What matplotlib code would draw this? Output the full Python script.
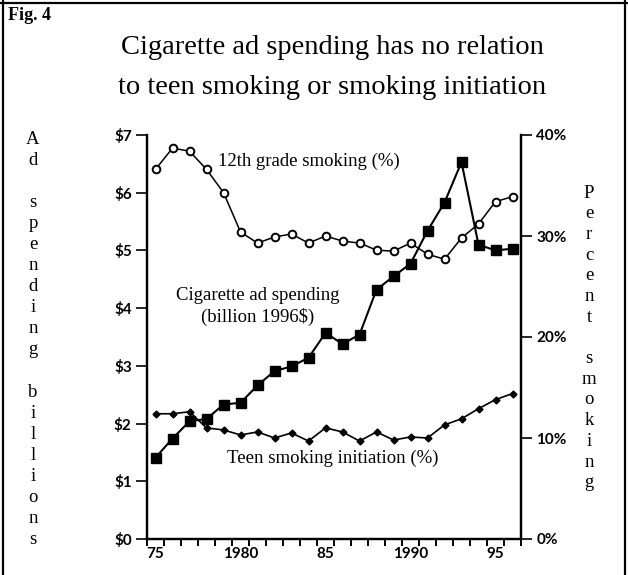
import matplotlib
matplotlib.use('Agg')
import matplotlib.pyplot as plt
from matplotlib.lines import Line2D

# Data
years = list(range(1975, 1997))
ad_spending = [1.41, 1.74, 2.04, 2.08, 2.33, 2.36, 2.66, 2.91, 2.99, 3.14, 3.57,
               3.38, 3.54, 4.32, 4.55, 4.77, 5.34, 5.83, 6.53, 5.10, 5.00, 5.03]
grade12_smoking = [36.6, 38.7, 38.4, 36.6, 34.3, 30.4, 29.3, 29.9, 30.2, 29.3, 30.0,
                   29.5, 29.3, 28.6, 28.5, 29.3, 28.2, 27.7, 29.8, 31.2, 33.4, 33.9]
teen_initiation = [12.4, 12.4, 12.6, 11.0, 10.8, 10.3, 10.6, 10.0, 10.5, 9.7, 11.0,
                   10.6, 9.7, 10.6, 9.8, 10.1, 10.0, 11.3, 11.9, 12.9, 13.8, 14.4]

year_labels = ['75', '1980', '85', '1990', '95']
label_years = [1975, 1980, 1985, 1990, 1995]
dollar_ticks = [0, 1, 2, 3, 4, 5, 6, 7]
pct_ticks = [0, 10, 20, 30, 40]

W, H = 628, 575
serif = ['Liberation Serif', 'DejaVu Serif']
tickfont = dict(family=['Lato', 'DejaVu Sans'], size=11, weight='bold')

fig = plt.figure(figsize=(W / 100, H / 100), dpi=100)
fig.patch.set_facecolor('white')

# axes box in pixels
x0, x1, ytop, ybot = 147, 521, 135, 539
ax = fig.add_axes([x0 / W, 1 - ybot / H, (x1 - x0) / W, (ybot - ytop) / H])
ax2 = ax.twinx()

ax.plot(years, ad_spending, color='black', lw=1.5, marker='s', ms=6.5,
        mfc='black', mec='black', zorder=3)
ax2.plot(years, grade12_smoking, color='black', lw=1.1, marker='o', ms=5.5,
         mfc='white', mec='black', mew=1.4, zorder=3)
ax2.plot(years, teen_initiation, color='black', lw=1.2, marker='D', ms=3.5,
         mfc='black', mec='black', zorder=3)

ax.set_xlim(1974.5, 1996.5)
ax.set_ylim(0, 7)
ax2.set_ylim(0, 40)

for a in (ax, ax2):
    a.spines['top'].set_visible(False)
    for s in ('left', 'right', 'bottom'):
        a.spines[s].set_linewidth(1.6)

# x: ticks at interval edges, labels centred in intervals
ax.set_xticks([1974.5 + k for k in range(23)])
ax.set_xticklabels([])
ax.set_xticks(label_years, minor=True)
ax.set_xticklabels(year_labels, minor=True, fontdict=tickfont)
ax.tick_params(axis='x', which='major', direction='out', length=5, width=1.4)
ax.tick_params(axis='x', which='minor', length=0, pad=6)

ax.set_yticks(dollar_ticks)
ax.set_yticklabels(['$%d' % v for v in dollar_ticks], fontdict=tickfont)
ax.tick_params(axis='y', direction='out', length=8, width=1.2, pad=3)

ax2.set_yticks(pct_ticks)
ax2.set_yticklabels(['%d%%' % v for v in pct_ticks], fontdict=tickfont)
ax2.tick_params(axis='y', direction='out', length=8, width=1.2, pad=3)

# series labels
ax.text(0.19, 0.935, '12th grade smoking (%)', transform=ax.transAxes,
        fontsize=13.5, family=serif, ha='left', va='center')
ax.text(0.295, 0.575, 'Cigarette ad spending\n(billion 1996$)', transform=ax.transAxes,
        fontsize=13.5, family=serif, ha='center', va='center', linespacing=1.25)
ax.text(0.215, 0.2, 'Teen smoking initiation (%)', transform=ax.transAxes,
        fontsize=13.5, family=serif, ha='left', va='center')

# stacked vertical axis titles
def stacked(word, x, y_start, step):
    for i, ch in enumerate(word):
        if ch != ' ':
            fig.text(x / W, 1 - (y_start + i * step) / H, ch, family=serif,
                     fontsize=13.5, ha='center', va='center')

stacked('Ad spending billions', 33, 139, 21.1)
stacked('Percent smoking', 589, 193, 20.7)

# title
fig.text(8 / W, 1 - 16 / H, 'Fig. 4', family=serif, fontsize=13, weight='bold',
         ha='left', va='center')
fig.text(332 / W, 1 - 48 / H, 'Cigarette ad spending has no relation', family=serif,
         fontsize=20.5, ha='center', va='center')
fig.text(332 / W, 1 - 87 / H, 'to teen smoking or smoking initiation', family=serif,
         fontsize=20.5, ha='center', va='center')

# frame around figure
for xs, ys in [((3, 3), (0, H)), ((0, W), (3, 3)), ((625, 625), (0, H))]:
    fig.add_artist(Line2D([v / W for v in xs], [1 - v / H for v in ys],
                          color='black', lw=1.6, transform=fig.transFigure))

fig.savefig('out.png', dpi=100)
